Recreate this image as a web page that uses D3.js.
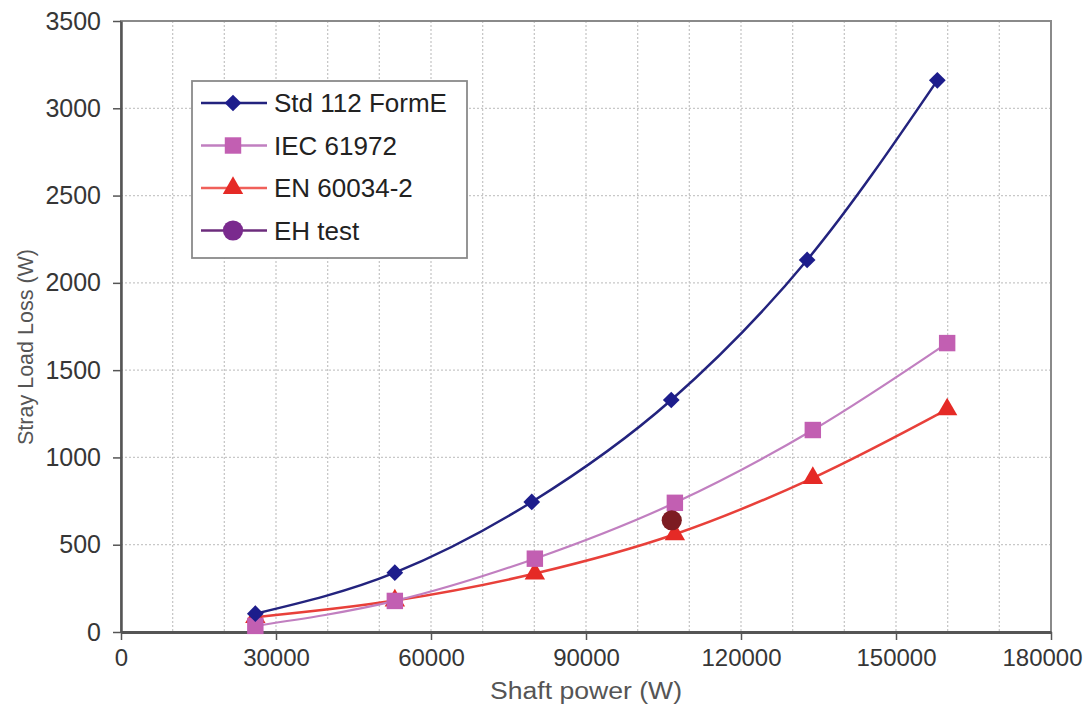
<!DOCTYPE html>
<html>
<head>
<meta charset="utf-8">
<script src="https://cdn.jsdelivr.net/npm/d3@7"></script>
<style>
  body { margin: 0; background: #fff; }
  text { font-family: "Liberation Sans", Arial, sans-serif; }
</style>
</head>
<body>
<div class="container"></div>
<script>
// values
const stdPower = [26000, 53000, 79500, 106500, 132800, 158000]
const stdLoss = [105, 340, 745, 1329, 2131, 3160]
const iecPower = [26000, 53000, 80100, 107200, 133900, 159900]
const iecLoss = [35, 178, 420, 740, 1157, 1655]
const enPower = [26000, 53000, 80100, 107200, 133900, 159900]
const enLoss = [85, 180, 335, 560, 882, 1275]
const ehPower = [106600]
const ehLoss = [640]
const xTicks = [0, 30000, 60000, 90000, 120000, 150000, 180000]
const yTicks = [0, 500, 1000, 1500, 2000, 2500, 3000, 3500]
const legendNames = ["Std 112 FormE", "IEC 61972", "EN 60034-2", "EH test"]

const w = 1089
const h = 706
const pLeft = 121, pTop = 21, pRight = 1051, pBottom = 632

const xScale = d3.scaleLinear().domain([0, 180000]).range([pLeft, pRight])
const yScale = d3.scaleLinear().domain([0, 3500]).range([pBottom, pTop])

const svg = d3.select(".container")
              .append("svg")
              .attr("width", w)
              .attr("height", h)

// dotted grid, every 10000 W and every 500 W
svg.append("g")
   .selectAll("line")
   .data(d3.range(10000, 180000, 10000))
   .enter()
   .append("line")
   .attr("x1", d => xScale(d)).attr("x2", d => xScale(d))
   .attr("y1", pTop).attr("y2", pBottom)
   .style("stroke", "#c8c8c8").style("stroke-width", 1.3)
   .style("stroke-dasharray", "2,2")

svg.append("g")
   .selectAll("line")
   .data(yTicks.slice(1, -1))
   .enter()
   .append("line")
   .attr("x1", pLeft).attr("x2", pRight)
   .attr("y1", d => yScale(d)).attr("y2", d => yScale(d))
   .style("stroke", "#c8c8c8").style("stroke-width", 1.3)
   .style("stroke-dasharray", "2,2")

// frame
svg.append("rect")
   .attr("x", pLeft).attr("y", pTop)
   .attr("width", pRight - pLeft).attr("height", pBottom - pTop)
   .style("fill", "none").style("stroke", "#8a8a8a").style("stroke-width", 2)

// axes
const xAxis = d3.axisBottom(xScale).tickValues(xTicks).tickFormat(d3.format("d"))
                .tickSize(8).tickSizeOuter(0).tickPadding(9)
const yAxis = d3.axisLeft(yScale).tickValues(yTicks).tickFormat(d3.format("d"))
                .tickSize(8).tickSizeOuter(0).tickPadding(12)

const gx = svg.append("g")
   .attr("id", "x-axis")
   .attr("transform", `translate(0, ${pBottom})`)
   .call(xAxis)
gx.select(".domain").style("stroke", "#555").style("stroke-width", 3)
gx.selectAll(".tick line").style("stroke", "#555").style("stroke-width", 1.5)
gx.selectAll("text").style("font-size", "24px").style("fill", "#363636")
// last label pulled in a little so it stays on the page
gx.selectAll(".tick text").filter(d => d == 180000).attr("dx", -9)

const gy = svg.append("g")
   .attr("id", "y-axis")
   .attr("transform", `translate(${pLeft}, 0)`)
   .call(yAxis)
gy.select(".domain").style("stroke", "#555").style("stroke-width", 2.5)
gy.selectAll(".tick line").style("stroke", "#555").style("stroke-width", 1.5)
gy.selectAll("text").style("font-size", "25px").style("fill", "#363636")

// axis titles
svg.append("text")
   .attr("x", 586).attr("y", 699)
   .attr("text-anchor", "middle")
   .attr("textLength", 192).attr("lengthAdjust", "spacingAndGlyphs")
   .style("font-size", "23px").style("fill", "#555")
   .text("Shaft  power (W)")

svg.append("text")
   .attr("transform", "translate(33, 347) rotate(-90)")
   .attr("text-anchor", "middle")
   .attr("textLength", 196).attr("lengthAdjust", "spacingAndGlyphs")
   .style("font-size", "22px").style("fill", "#555")
   .text("Stray Load Loss (W)")

// series
const series = [
  { px: stdPower, py: stdLoss, line: "#23237e", fill: "#1d1d8c", sym: "diamond", lw: 2.5 },
  { px: iecPower, py: iecLoss, line: "#c17fc0", fill: "#c25fb2", sym: "square", lw: 2.2 },
  { px: enPower, py: enLoss, line: "#e8403a", fill: "#e52a26", sym: "triangle", lw: 2.5 }
]

const line = d3.line()
   .x(d => xScale(d[0]))
   .y(d => yScale(d[1]))
   .curve(d3.curveMonotoneX)

function marker(g, type, x, y, color, scale) {
  let s
  if (type == "diamond") {
    s = g.append("path").attr("d", d3.symbol(d3.symbolSquare, 140 * scale)())
         .attr("transform", `translate(${x},${y}) rotate(45)`)
  } else if (type == "square") {
    s = g.append("path").attr("d", d3.symbol(d3.symbolSquare, 270 * scale)())
         .attr("transform", `translate(${x},${y})`)
  } else if (type == "triangle") {
    s = g.append("path").attr("d", d3.symbol(d3.symbolTriangle, 180 * scale)())
         .attr("transform", `translate(${x},${y})`)
  } else {
    s = g.append("path").attr("d", d3.symbol(d3.symbolCircle, 320 * scale)())
         .attr("transform", `translate(${x},${y})`)
  }
  s.style("fill", color)
  return s
}

// draw from bottom up so the navy line ends on top like the picture
series.slice().reverse().forEach(sr => {
  const pts = sr.px.map((p, i) => [p, sr.py[i]])
  svg.append("path")
     .datum(pts)
     .attr("d", line)
     .style("fill", "none")
     .style("stroke", sr.line)
     .style("stroke-width", sr.lw)
  const g = svg.append("g")
  pts.forEach(p => marker(g, sr.sym, xScale(p[0]), yScale(p[1]), sr.fill, 1))
})

// EH test point
const eh = svg.append("g")
ehPower.forEach((p, i) => marker(eh, "circle", xScale(p), yScale(ehLoss[i]), "#7d1c22", 1))

// legend
const lg = svg.append("g")
lg.append("rect")
  .attr("x", 192).attr("y", 81).attr("width", 275).attr("height", 177)
  .style("fill", "#fff").style("stroke", "#8a8a8a").style("stroke-width", 1.8)

const legendLine = ["#23237e", "#c17fc0", "#f0605a", "#6c2c7c"]
const legendFill = ["#1d1d8c", "#c25fb2", "#e52a26", "#7a2a8e"]
const legendSym = ["diamond", "square", "triangle", "circle"]
legendNames.forEach((name, i) => {
  const y = 103 + i * 42.5
  lg.append("line")
    .attr("x1", 201).attr("x2", 267).attr("y1", y).attr("y2", y)
    .style("stroke", legendLine[i]).style("stroke-width", 2.5)
  marker(lg, legendSym[i], 233, y, legendFill[i], 1)
  lg.append("text")
    .attr("x", 274).attr("y", y + 9)
    .style("font-size", "26px").style("fill", "#222")
    .text(name)
})
</script>
</body>
</html>
